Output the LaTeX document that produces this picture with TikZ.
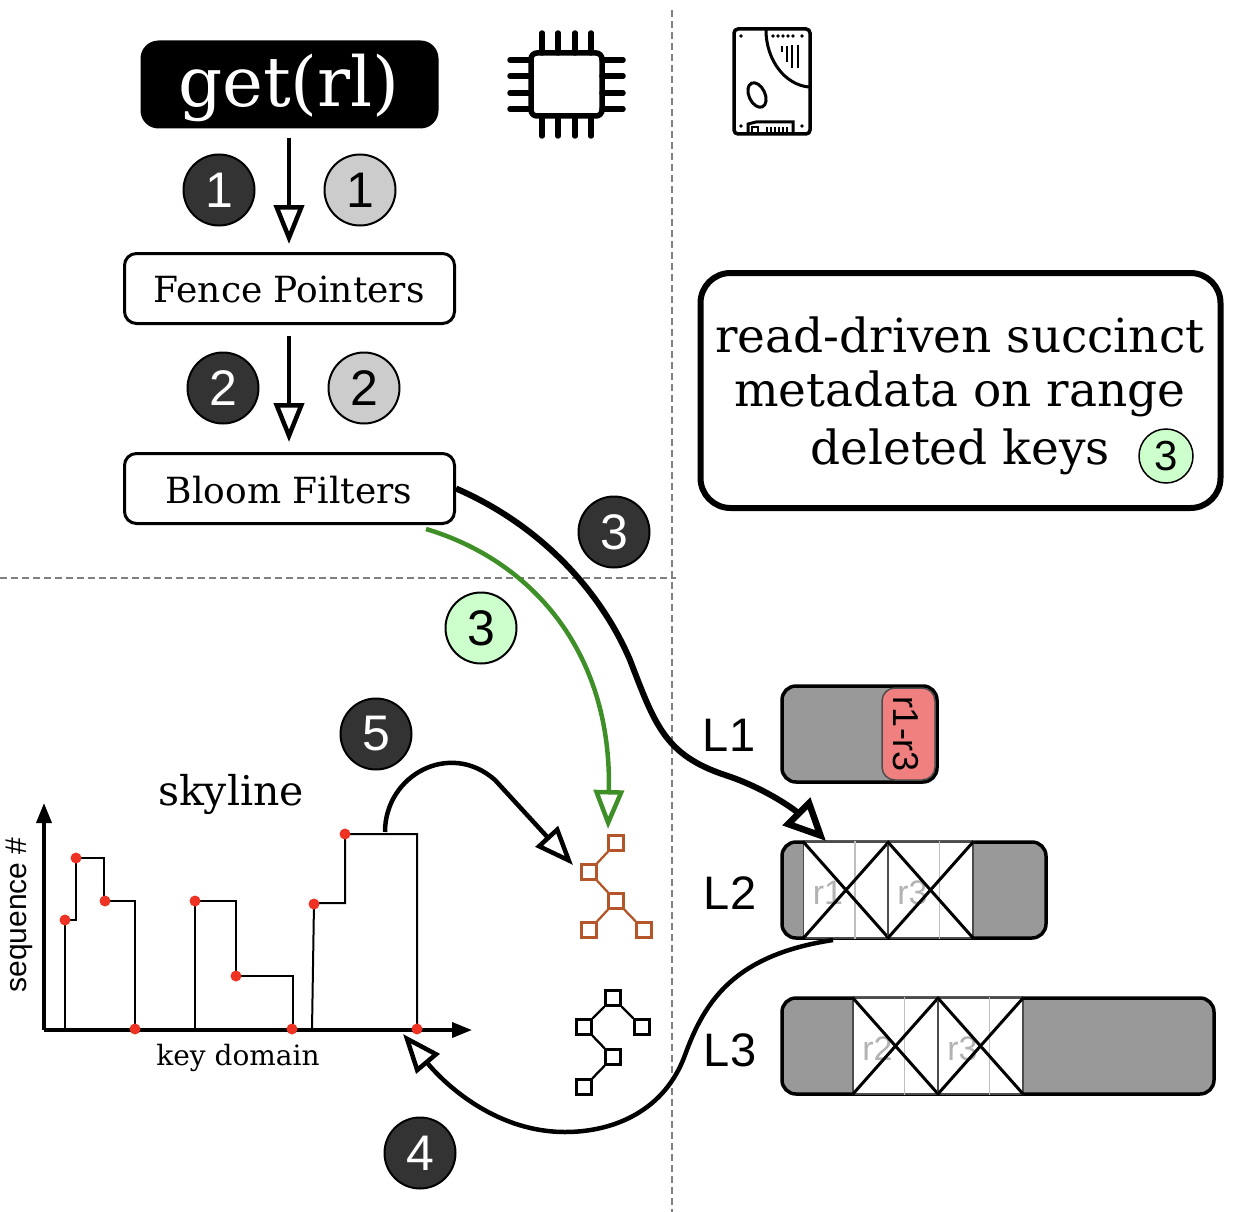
\documentclass[tikz,border=0pt]{standalone}
\usepackage{fontspec}
\setmainfont{DejaVu Serif}
\setsansfont{Liberation Sans}
\usetikzlibrary{arrows.meta,shapes.geometric}
\definecolor{darkstep}{HTML}{333333}
\definecolor{lightstep}{HTML}{CCCCCC}
\definecolor{greenstep}{HTML}{CCFFCC}
\definecolor{greenline}{HTML}{3F8F29}
\definecolor{treeline}{HTML}{B5562A}
\definecolor{runfill}{HTML}{999999}
\definecolor{rangefill}{HTML}{F08080}
\definecolor{skydot}{HTML}{EE3224}
\newcommand{\fsize}[1]{\fontsize{#1}{#1}\selectfont}
\tikzset{
  opentip/.style={-{Triangle[open,length=39pt,width=30pt,line width=4.5pt]}},
  stepnum/.style={circle,draw=black,line width=2pt,minimum size=71pt,inner sep=0pt,font=\sffamily\fsize{50}},
  darknum/.style={stepnum,fill=darkstep,text=white},
  lightnum/.style={stepnum,fill=lightstep},
  greennum/.style={stepnum,fill=greenstep},
  compbox/.style={draw=black,line width=3pt,rounded corners=12pt,minimum width=330pt,minimum height=70pt,inner sep=0pt,font=\fsize{36}},
  levelbox/.style={draw=black,fill=runfill,line width=3.5pt,rounded corners=14pt,minimum height=96pt,inner sep=0pt},
  levelname/.style={font=\sffamily\fsize{47},inner sep=0pt},
  cellbox/.style={draw=black!70,fill=white,line width=1.2pt,minimum width=85pt,minimum height=96pt,inner sep=0pt},
  celltext/.style={text=black!30,font=\sffamily\fsize{34},inner sep=0pt},
  treebox/.style={draw,fill=white,line width=2.3pt,minimum size=15pt,inner sep=0pt},
  skydotted/.style={circle,fill=skydot,minimum size=11pt,inner sep=0pt},
}
\begin{document}
\begin{tikzpicture}[x=1pt,y=-1pt]
  \useasboundingbox (0,0) rectangle (1234,1212);

  \draw [gray,dashed,line width=1.2pt,dash pattern=on 7pt off 4pt] (672,10) -- (672,1212);
  \draw [gray,dashed,line width=1.2pt,dash pattern=on 7pt off 4pt] (0,578) -- (676,578);

  % read path
  \node [fill=black,rounded corners=18pt,minimum width=298pt,minimum height=88pt,inner sep=0pt] (get) at (289.5,84.5) {};
  \node [text=white,font=\fsize{69},inner sep=0pt] (gettext) at (289,88) {get(rl)};
  \node [compbox] (fence) at (289.5,288.5) {};
  \node [font=\fsize{36},inner sep=0pt] (fencetext) at (289,290) {Fence Pointers};
  \node [compbox] (bloom) at (289.5,488.5) {};
  \node [font=\fsize{36},inner sep=0pt] (bloomtext) at (289,490) {Bloom Filters};
  \coordinate (gettail) at (289,138);
  \coordinate (fencetop) at (289,244);
  \coordinate (fencetail) at (289,336);
  \coordinate (bloomtop) at (289,442);
  \draw [opentip,line width=4pt] (gettail) -- (fencetop);
  \draw [opentip,line width=4pt] (fencetail) -- (bloomtop);

  \node [darknum] (d1) at (219,190) {1};
  \node [lightnum] (l1) at (360,190) {1};
  \node [darknum] (d2) at (223,388) {2};
  \node [lightnum] (l2) at (364,388) {2};
  \node [darknum] (d3) at (614,532) {3};
  \node [greennum] (g3) at (481,628) {3};
  \node [darknum] (d5) at (376,734) {5};
  \node [darknum] (d4) at (420,1153) {4};

  % memory chip
  \draw [line width=5.5pt,rounded corners=6pt] (531,53) rectangle (602,116);
  \foreach \n in {542,558,575,591}{
    \draw [line width=5.5pt,line cap=round] (\n,33) -- (\n,53);
    \draw [line width=5.5pt,line cap=round] (\n,116) -- (\n,136);
  }
  \foreach \n in {60,76,93,109}{
    \draw [line width=5.5pt,line cap=round] (510,\n) -- (531,\n);
    \draw [line width=5.5pt,line cap=round] (602,\n) -- (623,\n);
  }

  % disk
  \draw [line width=3.5pt,rounded corners=4pt] (734,29) rectangle (810,134);
  \draw [line width=3pt] (766,30) .. controls (766,60) and (785,85) .. (809,87);
  \draw [line width=3pt,rotate around={25:(757,95)}] (757,95) ellipse (8pt and 13pt);
  \draw [line width=3pt] (748,132) -- (748,124) -- (756,122) -- (793,122) -- (793,132);
  \draw [line width=2.5pt] (752,132) -- (752,127) -- (758,127) -- (758,132);
  \foreach \n in {767,771,775,779,783,787}{
    \draw [line width=2pt] (\n,127) -- (\n,132);
  }
  \foreach \n/\m in {741/36,741/126,802/126,773/36,778/36,783/36,788/36,793/36,802/36}{
    \fill (\n,\m) circle (1.9pt);
  }
  \foreach \n/\m/\k in {782/46/52,787/46/62,792/45/68,798/45/68}{
    \draw [line width=2.8pt] (\n,\m) -- (\n,\k);
  }

  % note
  \node [draw=black,line width=6pt,rounded corners=30pt,minimum width=520pt,minimum height=235pt] (note) at (960.5,390.5) {};
  \node [font=\fsize{47},inner sep=0pt] (note1) at (960,335) {read-driven succinct};
  \node [font=\fsize{47},inner sep=0pt] (note2) at (960,394) {metadata on range};
  \node [font=\fsize{47},inner sep=0pt] (note3) at (960,452) {deleted keys};
  \node [greennum,minimum size=54pt,line width=1.5pt,font=\sffamily\fsize{42}] (noteg) at (1166,456) {3};

  % levels
  \node [levelname] (nl1) at (729,735) {L1};
  \node [levelname] (nl2) at (730,893) {L2};
  \node [levelname] (nl3) at (730,1050) {L3};
  \node [levelbox,minimum width=155pt] (lone) at (859.5,734) {};
  \node [draw=black!70,fill=rangefill,line width=1.5pt,rounded corners=13pt,minimum width=53pt,minimum height=92pt,inner sep=0pt] (range) at (908.5,734) {};
  \node [rotate=-90,font=\sffamily\fsize{36},inner sep=0pt] (rangetext) at (906,734) {r1-r3};
  \node [levelbox,minimum width=264pt] (ltwo) at (914,890) {};
  \node [levelbox,minimum width=432pt] (lthree) at (998,1046) {};

  \foreach \nm/\x/\y/\lab in {ca/846/890/r1,cb/930.5/890/r3,cc/895.5/1046/r2,cd/980.5/1046/r3}{
    \node [cellbox] (\nm) at (\x,\y) {};
    \draw [black!25,line width=1.5pt] ([xshift=9pt]\nm.north) -- ([xshift=9pt]\nm.south);
    \node [celltext] (\nm t) at ([xshift=-18pt,yshift=-3pt]\nm.center) {\lab};
    \draw [line width=3pt] (\nm.north west) -- (\nm.south east);
    \draw [line width=3pt] (\nm.south west) -- (\nm.north east);
  }

  % skyline
  \node [font=\fsize{41},inner sep=0pt] (sky) at (231,794) {skyline};
  \node [font=\fsize{28},inner sep=0pt] (keyd) at (238,1058) {key domain};
  \node [rotate=90,font=\sffamily\fsize{30},inner sep=0pt] (seq) at (19,915) {sequence \#};
  \coordinate (origin) at (44,1030);
  \coordinate (ytop) at (44,803);
  \coordinate (xend) at (472,1030);
  \draw [line width=2pt] (65,1030) -- (65,920) -- (76,920) -- (76,858) -- (104,858) -- (104,901) -- (135,901) -- (135,1030);
  \draw [line width=2pt] (195,1030) -- (195,901) -- (236,901) -- (236,976) -- (293,976) -- (293,1030);
  \draw [line width=2pt] (312,1030) -- (314,903) -- (345,903) -- (345,834) -- (417,834) -- (417,1030);
  \draw [-{Triangle[length=20pt,width=15pt]},line width=3.5pt] (origin) -- (ytop);
  \draw [-{Triangle[length=20pt,width=15pt]},line width=3.5pt] (origin) -- (xend);
  \foreach \x/\y in {65/920,76/858,105/901,135/1029,195/901,236/976,292/1029,314/904,345/834,417/1029}{
    \node [skydotted] at (\x,\y) {};
  }

  % filter trees
  \foreach \nm/\x/\y in {ta/616/843,tb/589/872,tc/616/901,td/589/930,te/644/930}{
    \node [treebox,draw=treeline] (\nm) at (\x,\y) {};
  }
  \foreach \a/\b in {ta/tb,tb/tc,tc/td,tc/te}{
    \draw [treeline,line width=2.3pt] (\a) -- (\b);
  }
  \foreach \nm/\x/\y in {ua/613/998,ub/584/1027,uc/642/1027,ud/613/1057,ue/584/1087}{
    \node [treebox,draw=black] (\nm) at (\x,\y) {};
  }
  \foreach \a/\b in {ua/ub,ua/uc,ub/ud,ud/ue}{
    \draw [line width=2.3pt] (\a) -- (\b);
  }

  % curved arrows
  \coordinate (greentail) at (426,529);
  \coordinate (treetop) at (608,829);
  \coordinate (ltwohit) at (826,841);
  \coordinate (skytail) at (385,832);
  \coordinate (treeside) at (573,865);
  \coordinate (ltwofoot) at (833,940);
  \coordinate (xhit) at (403,1034);
  \draw [-{Triangle[open,length=42pt,width=38pt,line width=6.5pt]},line width=6pt] (bloom.east) .. controls (540,525) and (600,590) .. (630,660) .. controls (655,725) and (665,755) .. (725,775) .. controls (765,788) and (795,810) .. (ltwohit);
  \draw [opentip,greenline,line width=4.5pt] (greentail) .. controls (530,560) and (612,650) .. (treetop);
  \draw [opentip,line width=4.5pt] (skytail) .. controls (385,775) and (450,740) .. (495,780) -- (treeside);
  \draw [opentip,line width=4.5pt] (ltwofoot) .. controls (735,955) and (705,1000) .. (685,1055) .. controls (665,1110) and (615,1132) .. (565,1132) .. controls (500,1132) and (450,1090) .. (xhit);
\end{tikzpicture}
\end{document}
